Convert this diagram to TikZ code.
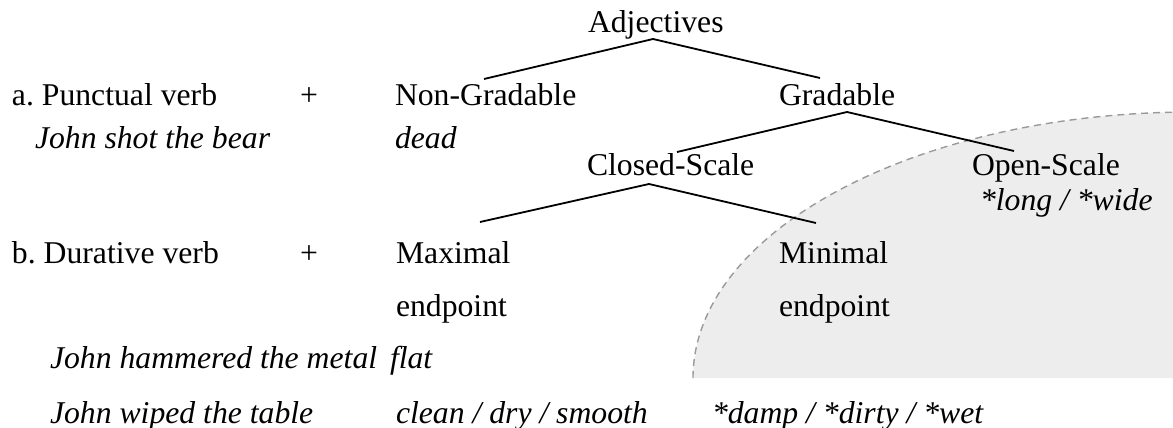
\documentclass[tikz,border=0pt]{standalone}
\usepackage{fontspec}
\setmainfont{Liberation Serif}
\definecolor{shadegray}{HTML}{EDEDED}
\definecolor{dashc}{HTML}{9A9A9A}
\begin{document}
\begin{tikzpicture}[x=1pt,y=-1pt,
  txt/.style={anchor=base west,inner sep=0pt,outer sep=0pt,font=\fontsize{31.7}{38}\selectfont},
  itx/.style={txt,font=\fontsize{31.7}{38}\selectfont\itshape},
  branch/.style={draw=black,line width=1.8pt},
  region/.style={draw=dashc,line width=1.4pt,dash pattern=on 7pt off 5pt}]
\useasboundingbox (0,0) rectangle (1173,428);
\begin{scope}
\clip (0,0) rectangle (1173,428);
\fill[fill=shadegray] (693,378) arc[start angle=180,end angle=90,x radius=500pt,y radius=266pt] -- (1300,112) -- (1300,378) -- cycle;
\draw[region] (693,378) arc[start angle=180,end angle=90,x radius=500pt,y radius=266pt];
\end{scope}
% row a
\node[txt] (adj) at (588,33) {Adjectives};
\node[txt] (pa) at (12,105) {a.\ Punctual verb};
\node[txt] (plusa) at (300,105) {+};
\node[txt] (nongrad) at (395,105) {Non-Gradable};
\node[txt] (grad) at (779,105) {Gradable};
\node[itx] (shot) at (35,148) {John shot the bear};
\node[itx] (dead) at (395,148) {dead};
\node[txt] (closed) at (587,175) {Closed-Scale};
\node[txt] (open) at (972,175) {Open-Scale};
\node[itx] (longwide) at (980,210) {*long / *wide};
% row b
\node[txt] (pb) at (12,263) {b.\ Durative verb};
\node[txt] (plusb) at (300,263) {+};
\node[txt] (maxi) at (396,263) {Maximal};
\node[txt] (maxe) at (396,316) {endpoint};
\node[txt] (mini) at (779,263) {Minimal};
\node[txt] (mine) at (779,316) {endpoint};
\node[itx] (hammer) at (50,368) {John hammered the metal};
\node[itx] (flat) at (390,368) {flat};
\node[itx] (wiped) at (50,423) {John wiped the table};
\node[itx] (clean) at (396,423) {clean / dry / smooth};
\node[itx] (damp) at (712,423) {*damp / *dirty / *wet};
% tree
\draw[branch] ([xshift=65pt,yshift=-6pt]adj.base west) -- ([xshift=89pt,yshift=26pt]nongrad.base west);
\draw[branch] ([xshift=65pt,yshift=-6pt]adj.base west) -- ([xshift=41pt,yshift=27pt]grad.base west);
\draw[branch] ([xshift=68pt,yshift=-7pt]grad.base west) -- ([xshift=90pt,yshift=23pt]closed.base west);
\draw[branch] ([xshift=68pt,yshift=-7pt]grad.base west) -- ([xshift=42pt,yshift=24pt]open.base west);
\draw[branch] ([xshift=62pt,yshift=-9pt]closed.base west) -- ([xshift=84pt,yshift=41pt]maxi.base west);
\draw[branch] ([xshift=62pt,yshift=-9pt]closed.base west) -- ([xshift=37pt,yshift=40pt]mini.base west);
\end{tikzpicture}
\end{document}
